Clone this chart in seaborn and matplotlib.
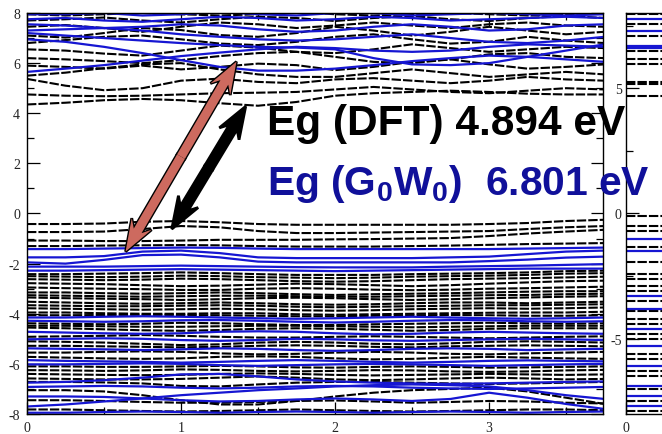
import numpy as np
import pandas as pd
import matplotlib
matplotlib.use("Agg")
import matplotlib.pyplot as plt
import seaborn as sns
from matplotlib.patches import FancyArrow
from matplotlib.transforms import IdentityTransform
from matplotlib.ticker import MultipleLocator

sns.set_theme(style="ticks")
plt.rcParams["font.family"] = ["Liberation Serif", "DejaVu Serif"]
plt.rcParams["mathtext.fontset"] = "custom"
plt.rcParams["mathtext.rm"] = "Liberation Sans:bold"
plt.rcParams["mathtext.bf"] = "Liberation Sans:bold"

# k-path positions
k_path = [0.0, 0.25, 0.5, 0.75, 1.0, 1.25, 1.5, 1.75, 2.0, 2.25, 2.5, 2.75, 3.0, 3.25, 3.5, 3.75]

# DFT conduction bands (eV)
dft_conduction = [
    [4.35, 4.42, 4.52, 4.57, 4.52, 4.40, 4.30, 4.45, 4.70, 4.80, 4.85, 4.90, 4.85, 4.78, 4.75, 4.75],
    [4.75, 4.70, 4.68, 4.70, 4.75, 4.80, 4.82, 4.85, 4.95, 5.05, 4.95, 4.85, 4.80, 4.90, 5.00, 4.95],
    [5.37, 5.10, 4.92, 5.00, 5.30, 5.38, 5.25, 5.20, 5.35, 5.40, 5.30, 5.20, 5.30, 5.45, 5.35, 5.30],
    [5.50, 5.62, 5.80, 5.95, 6.00, 5.75, 5.55, 5.45, 5.45, 5.60, 5.75, 5.60, 5.45, 5.55, 5.65, 5.55],
    [5.90, 5.85, 5.78, 5.90, 5.75, 5.85, 5.98, 5.92, 5.72, 5.85, 6.05, 6.15, 5.95, 5.78, 5.85, 5.95],
    [6.20, 6.15, 6.08, 6.00, 6.12, 6.28, 6.40, 6.45, 6.25, 6.05, 6.00, 6.15, 6.35, 6.40, 6.25, 6.20],
    [6.55, 6.50, 6.38, 6.30, 6.50, 6.70, 6.62, 6.45, 6.40, 6.55, 6.75, 6.60, 6.45, 6.55, 6.65, 6.60],
    [6.80, 6.92, 7.05, 7.10, 6.95, 6.78, 6.72, 6.85, 7.05, 7.15, 6.95, 6.78, 6.85, 7.05, 6.90, 6.80],
    [7.10, 7.02, 7.20, 7.40, 7.32, 7.12, 7.05, 7.20, 7.45, 7.30, 7.10, 7.25, 7.45, 7.30, 7.15, 7.25],
    [7.45, 7.52, 7.40, 7.25, 7.45, 7.62, 7.55, 7.40, 7.50, 7.62, 7.50, 7.40, 7.55, 7.62, 7.50, 7.45],
    [7.70, 7.75, 7.82, 7.70, 7.62, 7.75, 7.85, 7.80, 7.68, 7.80, 7.88, 7.75, 7.68, 7.80, 7.88, 7.80],
    [7.95, 7.90, 7.95, 8.00, 7.95, 7.90, 7.95, 8.05, 7.95, 7.90, 7.95, 8.00, 7.95, 7.90, 7.95, 8.00],
]

# DFT valence bands (eV)
dft_valence = [
    [-0.42, -0.42, -0.40, -0.33, -0.30, -0.35, -0.42, -0.45, -0.45, -0.45, -0.45, -0.45, -0.42, -0.38, -0.30, -0.25],
    [-0.74, -0.74, -0.72, -0.62, -0.50, -0.55, -0.70, -0.78, -0.78, -0.76, -0.74, -0.72, -0.70, -0.62, -0.55, -0.50],
    [-1.08, -1.08, -1.10, -1.10, -1.08, -1.05, -1.05, -1.05, -1.03, -1.02, -1.00, -0.98, -0.90, -0.80, -0.72, -0.65],
    [-1.30, -1.30, -1.28, -1.27, -1.26, -1.27, -1.30, -1.32, -1.32, -1.32, -1.30, -1.28, -1.25, -1.22, -1.20, -1.18],
    [-2.42, -2.42, -2.40, -2.38, -2.35, -2.38, -2.42, -2.45, -2.45, -2.45, -2.42, -2.40, -2.38, -2.35, -2.30, -2.28],
    [-2.50, -2.52, -2.54, -2.52, -2.48, -2.50, -2.54, -2.56, -2.58, -2.56, -2.52, -2.50, -2.48, -2.45, -2.40, -2.38],
    [-2.62, -2.64, -2.66, -2.64, -2.60, -2.62, -2.66, -2.70, -2.72, -2.70, -2.66, -2.62, -2.60, -2.58, -2.55, -2.52],
    [-2.78, -2.80, -2.82, -2.86, -2.90, -2.88, -2.84, -2.80, -2.82, -2.86, -2.90, -2.86, -2.80, -2.75, -2.70, -2.68],
    [-2.95, -2.98, -3.00, -3.02, -3.05, -3.05, -3.00, -2.98, -3.00, -3.04, -3.06, -3.04, -3.00, -2.98, -2.95, -2.92],
    [-3.15, -3.15, -3.18, -3.20, -3.18, -3.15, -3.18, -3.22, -3.25, -3.22, -3.20, -3.18, -3.15, -3.12, -3.10, -3.10],
    [-3.26, -3.28, -3.30, -3.32, -3.30, -3.28, -3.28, -3.30, -3.32, -3.32, -3.30, -3.28, -3.26, -3.25, -3.22, -3.20],
    [-3.35, -3.38, -3.40, -3.42, -3.45, -3.42, -3.38, -3.36, -3.38, -3.42, -3.45, -3.42, -3.38, -3.35, -3.32, -3.30],
    [-3.52, -3.55, -3.58, -3.60, -3.58, -3.55, -3.58, -3.62, -3.64, -3.62, -3.58, -3.55, -3.55, -3.58, -3.55, -3.52],
    [-3.66, -3.68, -3.70, -3.70, -3.68, -3.66, -3.68, -3.72, -3.74, -3.72, -3.70, -3.68, -3.66, -3.66, -3.64, -3.62],
    [-3.78, -3.80, -3.82, -3.84, -3.82, -3.80, -3.82, -3.86, -3.88, -3.86, -3.82, -3.80, -3.78, -3.80, -3.78, -3.75],
    [-3.95, -3.95, -3.98, -4.00, -4.00, -3.98, -3.98, -4.02, -4.04, -4.02, -4.00, -3.98, -3.96, -3.95, -3.95, -3.92],
    [-4.06, -4.06, -4.05, -4.04, -4.05, -4.06, -4.08, -4.10, -4.10, -4.08, -4.06, -4.05, -4.06, -4.08, -4.08, -4.06],
    [-4.38, -4.40, -4.42, -4.40, -4.36, -4.38, -4.42, -4.45, -4.45, -4.42, -4.40, -4.38, -4.36, -4.38, -4.40, -4.38],
    [-4.48, -4.48, -4.50, -4.52, -4.52, -4.50, -4.48, -4.48, -4.50, -4.52, -4.54, -4.52, -4.50, -4.48, -4.48, -4.48],
    [-4.55, -4.58, -4.62, -4.66, -4.68, -4.65, -4.60, -4.58, -4.60, -4.64, -4.68, -4.65, -4.60, -4.58, -4.58, -4.58],
    [-4.92, -4.90, -4.88, -4.85, -4.88, -4.92, -4.95, -4.95, -4.92, -4.90, -4.92, -4.95, -4.98, -4.95, -4.92, -4.90],
    [-5.10, -5.12, -5.15, -5.20, -5.25, -5.22, -5.15, -5.12, -5.15, -5.20, -5.22, -5.18, -5.12, -5.10, -5.12, -5.15],
    [-5.28, -5.28, -5.30, -5.32, -5.34, -5.32, -5.28, -5.26, -5.28, -5.32, -5.34, -5.30, -5.28, -5.26, -5.28, -5.30],
    [-5.55, -5.55, -5.52, -5.50, -5.52, -5.58, -5.62, -5.60, -5.55, -5.52, -5.55, -5.60, -5.62, -5.58, -5.55, -5.52],
    [-5.72, -5.75, -5.78, -5.80, -5.78, -5.72, -5.70, -5.72, -5.78, -5.82, -5.80, -5.75, -5.72, -5.75, -5.78, -5.80],
    [-6.10, -6.10, -6.12, -6.12, -6.10, -6.08, -6.10, -6.14, -6.15, -6.12, -6.10, -6.12, -6.15, -6.14, -6.12, -6.10],
    [-6.25, -6.26, -6.28, -6.26, -6.22, -6.24, -6.28, -6.30, -6.28, -6.25, -6.26, -6.30, -6.32, -6.30, -6.26, -6.24],
    [-6.40, -6.42, -6.44, -6.45, -6.44, -6.40, -6.38, -6.40, -6.44, -6.46, -6.44, -6.42, -6.40, -6.42, -6.44, -6.42],
    [-6.58, -6.60, -6.62, -6.62, -6.60, -6.55, -6.50, -6.55, -6.62, -6.65, -6.62, -6.58, -6.55, -6.58, -6.62, -6.60],
    [-6.72, -6.72, -6.74, -6.78, -6.88, -6.90, -6.82, -6.75, -6.72, -6.72, -6.75, -6.78, -6.80, -6.78, -6.75, -6.72],
    [-7.05, -7.05, -7.10, -7.25, -7.45, -7.62, -7.62, -7.48, -7.30, -7.15, -7.05, -7.00, -6.95, -7.10, -7.35, -7.60],
    [-7.45, -7.45, -7.48, -7.52, -7.55, -7.55, -7.52, -7.48, -7.46, -7.50, -7.55, -7.52, -7.48, -7.50, -7.55, -7.58],
    [-7.82, -7.82, -7.85, -7.88, -7.90, -7.88, -7.85, -7.82, -7.85, -7.88, -7.90, -7.88, -7.85, -7.82, -7.82, -7.85],
]

# G0W0 conduction bands (eV)
gw_conduction = [
    [5.65, 5.78, 5.92, 6.10, 6.28, 6.42, 6.55, 6.65, 6.60, 6.50, 6.45, 6.50, 6.65, 6.75, 6.70, 6.65],
    [6.95, 6.85, 6.65, 6.40, 6.12, 5.85, 5.70, 5.70, 5.78, 5.92, 6.08, 6.20, 6.30, 6.25, 6.15, 6.05],
    [7.20, 7.10, 7.00, 6.90, 6.80, 6.72, 6.65, 6.62, 6.55, 6.20, 5.95, 5.92, 6.00, 6.25, 6.50, 6.75],
    [7.30, 7.35, 7.40, 7.30, 7.15, 7.05, 6.95, 6.90, 6.95, 7.05, 7.15, 7.00, 6.85, 6.80, 6.90, 7.05],
    [7.55, 7.50, 7.40, 7.45, 7.55, 7.50, 7.35, 7.25, 7.30, 7.45, 7.55, 7.45, 7.30, 7.35, 7.50, 7.55],
    [7.75, 7.80, 7.70, 7.65, 7.75, 7.85, 7.80, 7.70, 7.75, 7.85, 7.80, 7.70, 7.75, 7.80, 7.85, 7.80],
    [7.95, 7.95, 8.00, 7.90, 7.95, 8.05, 7.95, 7.90, 8.00, 8.00, 7.90, 7.95, 8.00, 7.95, 7.90, 7.95],
]

# G0W0 valence bands (eV)
gw_valence = [
    [-1.42, -1.42, -1.40, -1.38, -1.36, -1.37, -1.40, -1.42, -1.42, -1.42, -1.42, -1.42, -1.42, -1.40, -1.38, -1.36],
    [-1.75, -1.75, -1.70, -1.52, -1.48, -1.58, -1.75, -1.78, -1.78, -1.78, -1.78, -1.75, -1.72, -1.62, -1.52, -1.48],
    [-1.95, -2.00, -1.85, -1.66, -1.64, -1.75, -1.92, -1.95, -1.95, -1.95, -1.95, -1.95, -1.90, -1.84, -1.76, -1.72],
    [-2.12, -2.12, -2.12, -2.10, -2.08, -2.10, -2.12, -2.14, -2.15, -2.15, -2.15, -2.12, -2.10, -2.08, -2.05, -2.02],
    [-2.28, -2.28, -2.26, -2.24, -2.22, -2.24, -2.26, -2.28, -2.30, -2.28, -2.26, -2.24, -2.22, -2.20, -2.20, -2.20],
    [-4.15, -4.15, -4.12, -4.10, -4.12, -4.15, -4.18, -4.20, -4.18, -4.15, -4.12, -4.15, -4.18, -4.20, -4.18, -4.15],
    [-4.28, -4.30, -4.32, -4.30, -4.26, -4.25, -4.28, -4.32, -4.35, -4.32, -4.28, -4.25, -4.26, -4.30, -4.32, -4.30],
    [-4.72, -4.75, -4.78, -4.80, -4.78, -4.72, -4.70, -4.72, -4.78, -4.82, -4.80, -4.75, -4.72, -4.75, -4.78, -4.80],
    [-5.02, -5.00, -4.98, -5.00, -5.05, -5.08, -5.05, -5.00, -5.02, -5.06, -5.08, -5.05, -5.02, -5.00, -5.02, -5.05],
    [-5.38, -5.40, -5.42, -5.45, -5.42, -5.38, -5.40, -5.45, -5.48, -5.45, -5.40, -5.38, -5.40, -5.45, -5.42, -5.40],
    [-5.85, -5.88, -5.90, -5.92, -5.95, -5.92, -5.88, -5.85, -5.88, -5.92, -5.95, -5.92, -5.88, -5.86, -5.88, -5.90],
    [-6.02, -6.02, -6.00, -5.98, -6.00, -6.05, -6.08, -6.05, -6.02, -6.00, -6.02, -6.05, -6.08, -6.05, -6.02, -6.00],
    [-6.75, -6.72, -6.65, -6.55, -6.42, -6.40, -6.50, -6.62, -6.70, -6.75, -6.78, -6.80, -6.78, -6.75, -6.72, -6.70],
    [-6.92, -6.90, -6.88, -6.90, -6.95, -6.98, -6.95, -6.90, -6.88, -6.90, -6.95, -6.98, -7.00, -6.98, -6.95, -6.92],
    [-7.70, -7.62, -7.50, -7.38, -7.25, -7.15, -7.05, -6.98, -6.90, -6.85, -6.82, -6.85, -6.90, -7.05, -7.25, -7.40],
    [-7.30, -7.30, -7.32, -7.38, -7.45, -7.50, -7.48, -7.42, -7.38, -7.42, -7.48, -7.40, -7.15, -7.35, -7.60, -7.80],
    [-7.95, -7.95, -7.92, -7.90, -7.92, -7.95, -7.92, -7.90, -7.92, -7.95, -7.92, -7.90, -7.92, -7.95, -7.92, -7.90],
]

# Second panel: levels at the start of the next path segment (eV)
side_k = [0.0, 1.0]
side_dft_levels = [7.95, 7.55, 7.1, 6.5, 6.15, 5.95, 5.25, 5.15, 4.7, -0.1, -0.5, -0.7, -1.35, -1.95,
                   -2.4, -2.6, -2.9, -3.1, -3.5, -3.9, -4.2, -4.4, -4.8, -5.0, -5.6, -5.8, -6.3,
                   -6.5, -7.0, -7.5, -7.9]
side_gw_levels = [7.75, 7.3, 6.7, 6.62, -1.0, -1.5, -3.3, -3.8, -4.6, -5.3, -6.1, -6.9, -7.3, -7.7]

# Gap annotations
dft_gap = 4.894
gw_gap = 6.801
dft_arrow_start = (0.94, -0.62)
gw_arrow_start = (0.64, -1.52)
gw_arrow_end = (1.36, 6.06)
dft_arrow_end_k = 1.42


def long_form(bands, xs, tag):
    rows = []
    for i, band in enumerate(bands):
        for x, e in zip(xs, band):
            rows.append((x, e, f"{tag}{i}"))
    return pd.DataFrame(rows, columns=["k", "E", "band"])


W, H = 662, 435
fig = plt.figure(figsize=(W / 100, H / 100), dpi=100)
fig.patch.set_facecolor("white")

ax = fig.add_axes([27 / W, 1 - 415 / H, (603 - 27) / W, (415 - 14) / H])
ax2 = fig.add_axes([626 / W, 1 - 415 / H, 150 / W, (415 - 14) / H])

black_kw = dict(color="black", lw=1.5, linestyle=(0, (4.5, 1.0)))
blue_kw = dict(color="#1616d2", lw=1.6)

dft_df = pd.concat([long_form(dft_conduction, k_path, "c"), long_form(dft_valence, k_path, "v")])
gw_df = pd.concat([long_form(gw_conduction, k_path, "c"), long_form(gw_valence, k_path, "v")])

sns.lineplot(data=dft_df, x="k", y="E", units="band", estimator=None, sort=False,
             legend=False, ax=ax, **black_kw)
sns.lineplot(data=gw_df, x="k", y="E", units="band", estimator=None, sort=False,
             legend=False, ax=ax, **blue_kw)

side_dft_df = long_form([[e, e] for e in side_dft_levels], side_k, "d")
side_gw_df = long_form([[e, e] for e in side_gw_levels], side_k, "g")
sns.lineplot(data=side_dft_df, x="k", y="E", units="band", estimator=None, sort=False,
             legend=False, ax=ax2, **black_kw)
sns.lineplot(data=side_gw_df, x="k", y="E", units="band", estimator=None, sort=False,
             legend=False, ax=ax2, **blue_kw)

for a in (ax, ax2):
    a.set_facecolor("white")
    a.set_xlabel("")
    a.set_ylabel("")
    a.set_ylim(-8, 8)
    for s in a.spines.values():
        s.set_color("black")
        s.set_linewidth(1.0)
        s.set_visible(True)
    a.tick_params(which="both", direction="in", colors="black", labelcolor="#222222",
                  labelsize=10, pad=5)
    a.tick_params(which="major", length=9, width=0.9)
    a.tick_params(which="minor", length=5, width=0.9)

ax.set_xlim(0, 3.74)
ax.xaxis.set_major_locator(MultipleLocator(1))
ax.xaxis.set_minor_locator(MultipleLocator(0.5))
ax.yaxis.set_major_locator(MultipleLocator(2))
ax.yaxis.set_minor_locator(MultipleLocator(1))
ax.tick_params(which="both", right=True, top=True)
ax.set_xticklabels([f"{int(t)}" for t in ax.get_xticks()])
ax.set_yticklabels([f"{int(t)}" for t in ax.get_yticks()])

ax2.set_xlim(0, 1)
ax2.set_xticks([0])
ax2.set_xticklabels(["0"])
ax2.yaxis.set_major_locator(MultipleLocator(5))
ax2.yaxis.set_minor_locator(MultipleLocator(2.5))
ax2.set_yticklabels([f"{int(t)}" for t in ax2.get_yticks()])
ax2.tick_params(axis="y", pad=3)

for lab in ax.get_xticklabels() + ax.get_yticklabels() + ax2.get_xticklabels() + ax2.get_yticklabels():
    lab.set_fontfamily(["Liberation Serif", "DejaVu Serif"])


def double_arrow(p_start, p_end, face, width, head_w, head_l):
    a = ax.transData.transform(p_start)
    b = ax.transData.transform(p_end)
    mid = (a + b) / 2
    patches = []
    for tip in (a, b):
        d = tip - mid
        for layer in (0, 1):
            arr = FancyArrow(mid[0], mid[1], d[0], d[1], width=width, head_width=head_w,
                             head_length=head_l, length_includes_head=True, overhang=0.25,
                             transform=IdentityTransform(),
                             facecolor=face, edgecolor="black" if layer == 0 else "none",
                             lw=2.0 if layer == 0 else 0, zorder=10 + layer)
            patches.append(arr)
    for p in sorted(patches, key=lambda p: p.get_zorder()):
        fig.add_artist(p)


double_arrow(gw_arrow_start, gw_arrow_end, "#cd6a5f", 9, 23, 32)
double_arrow(dft_arrow_start, (dft_arrow_end_k, dft_arrow_start[1] + dft_gap), "black", 9, 23, 32)

label_font = dict(family=["Liberation Sans", "DejaVu Sans"], weight="bold")
fig.text(267 / W, 1 - 135 / H, f"Eg (DFT) {dft_gap:.3f} eV", color="black", size=30.5,
         va="baseline", ha="left", zorder=20, **label_font)
fig.text(267 / W, 1 - 195 / H, r"Eg (G$_{\mathbf{0}}$W$_{\mathbf{0}}$)  " + f"{gw_gap:.3f} eV",
         color="#10109a", size=29.3, va="baseline", ha="left", zorder=20, **label_font)

fig.savefig("out.png", dpi=100, facecolor="white")
